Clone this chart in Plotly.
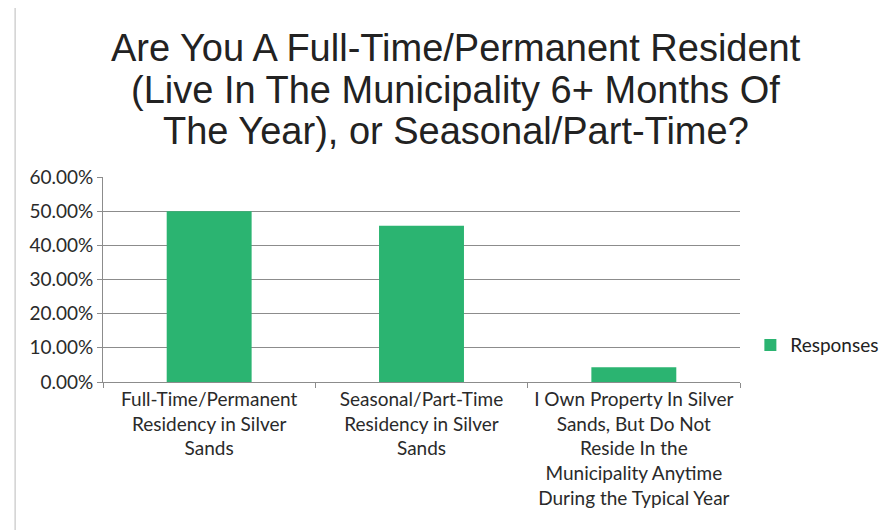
import plotly.graph_objects as go

categories = [
    "Full-Time/Permanent<br>Residency in Silver<br>Sands",
    "Seasonal/Part-Time<br>Residency in Silver<br>Sands",
    "I Own Property In Silver<br>Sands, But Do Not<br>Reside In the<br>Municipality Anytime<br>During the Typical Year",
]
responses = [0.500, 0.457, 0.043]
series_name = "Responses"
title_lines = [
    "Are You A Full-Time/Permanent Resident",
    "(Live In The Municipality 6+ Months Of",
    "The Year), or Seasonal/Part-Time?",
]

fig = go.Figure()
fig.add_trace(go.Bar(x=categories, y=responses, name=series_name,
                     marker=dict(color="#2BB471", line=dict(width=0)),
                     showlegend=True))

title_y = [1.629, 1.424, 1.222]
annotations = [
    dict(text=t, xref="paper", yref="paper", x=0.554, y=yy, xanchor="center",
         yanchor="middle", showarrow=False,
         font=dict(family="Liberation Sans, Arial, sans-serif", size=38, color="#222222"))
    for t, yy in zip(title_lines, title_y)
]

fig.update_layout(
    width=888, height=522,
    paper_bgcolor="white", plot_bgcolor="white",
    margin=dict(l=95, r=156, t=169, b=148, pad=0, autoexpand=False),
    bargap=0.6,
    annotations=annotations,
    font=dict(family="Lato, Carlito, Calibri, sans-serif", size=19, color="#2a2a2a"),
    legend=dict(xref="container", yref="container", x=0.836, y=0.354,
                xanchor="left", yanchor="middle",
                font=dict(size=19, color="#222222"), itemwidth=30,
                bgcolor="rgba(0,0,0,0)"),
    shapes=[dict(type="rect", xref="paper", yref="paper",
                 x0=-0.138, x1=1.26, y0=-0.76, y1=1.839,
                 line=dict(color="#bbbbbb", width=1))],
)
fig.update_yaxes(range=[0, 0.6], dtick=0.1, tickformat=".2%",
                 showgrid=True, gridcolor="#8c8c8c", gridwidth=1,
                 showline=True, linecolor="#8c8c8c", ticks="outside", ticklen=5,
                 tickcolor="#8c8c8c", tickfont=dict(size=19, color="#2a2a2a"),
                 zeroline=False)
fig.update_xaxes(showline=True, linecolor="#8c8c8c", ticks="outside", ticklen=5,
                 tickcolor="#8c8c8c", tickson="boundaries",
                 tickfont=dict(size=19, color="#2a2a2a"))

fig.write_html("out.html")
